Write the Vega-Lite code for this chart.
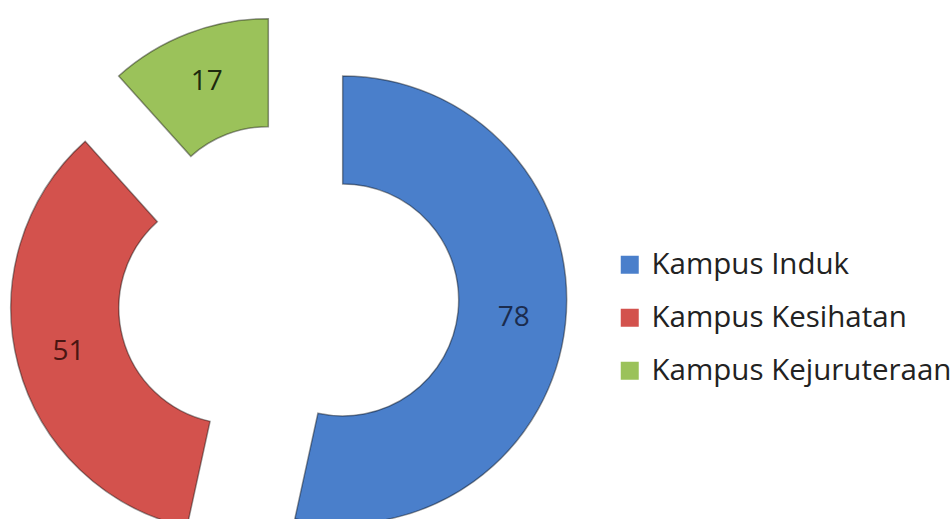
{
  "$schema": "https://vega.github.io/schema/vega-lite/v6.json",
  "width": 576,
  "height": 450,
  "padding": {"left": 0, "top": 69, "right": 376, "bottom": 0},
  "autosize": {"type": "none"},
  "background": "white",
  "config": {"view": {"stroke": null}},
  "data": {
    "values": [
      {"kampus": "Kampus Induk", "value": 78, "rank": 1},
      {"kampus": "Kampus Kesihatan", "value": 51, "rank": 2},
      {"kampus": "Kampus Kejuruteraan", "value": 17, "rank": 3}
    ]
  },
  "encoding": {
    "theta": {"field": "value", "type": "quantitative", "stack": true},
    "order": {"field": "rank", "type": "quantitative"}
  },
  "layer": [
    {
      "mark": {
        "type": "arc",
        "outerRadius": 224,
        "innerRadius": 116,
        "stroke": "#000",
        "strokeOpacity": 0.4,
        "strokeWidth": 1.5,
        "xOffset": {"expr": "55*sin((scale('theta', datum.value_start)+scale('theta', datum.value_end))/2)"},
        "yOffset": {"expr": "-55*cos((scale('theta', datum.value_start)+scale('theta', datum.value_end))/2)"}
      },
      "encoding": {
        "color": {
          "field": "kampus",
          "type": "nominal",
          "scale": {
            "domain": ["Kampus Induk", "Kampus Kesihatan", "Kampus Kejuruteraan"],
            "range": ["#4A7FCB", "#D3524D", "#9BC25A"]
          },
          "legend": {
            "title": null,
            "orient": "none",
            "legendX": 615,
            "legendY": 181,
            "symbolType": "square",
            "symbolSize": 324,
            "symbolStrokeWidth": 0,
            "symbolOpacity": 1,
            "labelFontSize": 29.5,
            "labelFont": "Open Sans",
            "labelColor": "#222",
            "labelLimit": 400,
            "rowPadding": 22,
            "labelOffset": 7
          }
        }
      }
    },
    {
      "mark": {
        "type": "text",
        "radius": 172,
        "fontSize": 28,
        "font": "Open Sans",
        "xOffset": {"expr": "55*sin((scale('theta', datum.value_start)+scale('theta', datum.value_end))/2)"},
        "yOffset": {"expr": "-55*cos((scale('theta', datum.value_start)+scale('theta', datum.value_end))/2)"}
      },
      "encoding": {
        "text": {"field": "value", "type": "quantitative"},
        "color": {
          "field": "kampus",
          "type": "nominal",
          "scale": {
            "domain": ["Kampus Induk", "Kampus Kesihatan", "Kampus Kejuruteraan"],
            "range": ["#1B2C4E", "#4A1512", "#1E2A0E"]
          },
          "legend": null
        }
      }
    }
  ],
  "resolve": {"scale": {"color": "independent"}}
}
